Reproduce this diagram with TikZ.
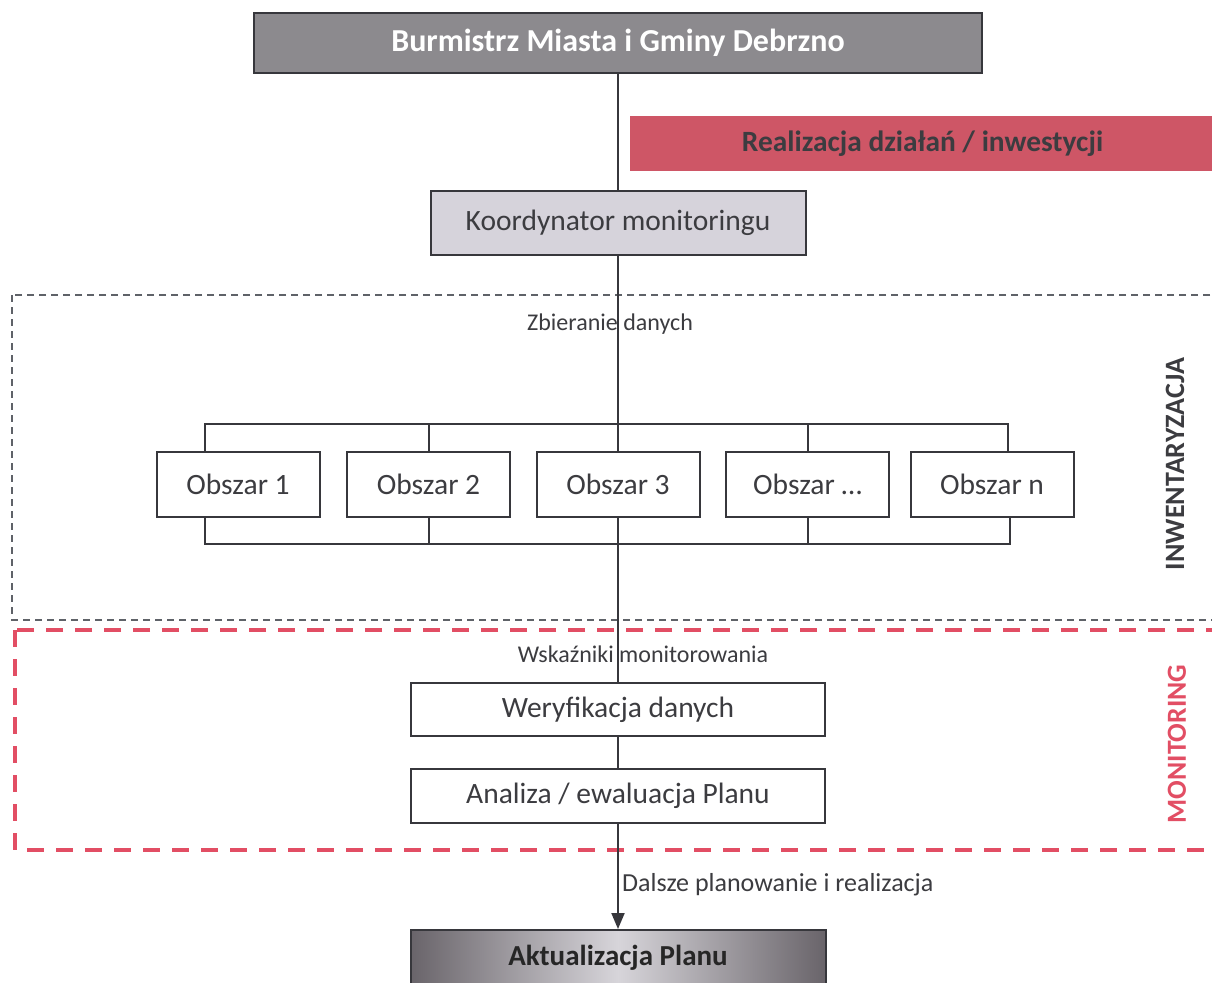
\documentclass[tikz,border=0pt]{standalone}
\usepackage{fontspec}
\setmainfont{Carlito}
\usetikzlibrary{arrows.meta}
\definecolor{edge}{RGB}{55,55,60}
\definecolor{ink}{RGB}{60,60,64}
\definecolor{headgray}{RGB}{140,138,142}
\definecolor{coordfill}{RGB}{214,211,219}
\definecolor{realred}{RGB}{206,86,102}
\definecolor{monred}{RGB}{226,78,100}
\definecolor{invgray}{RGB}{95,98,104}
\definecolor{akdark}{RGB}{105,100,106}
\definecolor{aklight}{RGB}{215,213,218}
\begin{document}
\begin{tikzpicture}[x=1pt,y=-1pt,
  box/.style={draw=edge, line width=2pt, inner sep=0pt, fill=white, text=ink,
    font=\fontsize{29.5}{33}\selectfont},
  conn/.style={draw=edge, line width=2pt},
  lbl/.style={text=ink, inner sep=0pt, font=\fontsize{24}{28}\selectfont},
  side/.style={rotate=90, inner sep=0pt, font=\fontsize{28}{32}\selectfont\bfseries},
  area/.style={draw=invgray, line width=2pt, dash pattern=on 7pt off 5pt},
  monarea/.style={draw=monred, line width=4pt, dash pattern=on 17pt off 12pt}]
\clip (0,0) rectangle (1212,982);
\fill[white] (0,0) rectangle (1212,982);

% frames of the two phases
\draw[area] (12,295) rectangle (1240,620);
\draw[monarea] (15,630) rectangle (1240,850);

% top of the hierarchy
\node[box, fill=headgray, text=white, minimum width=728pt, minimum height=60pt,
  font=\fontsize{32}{36}\selectfont\bfseries] (burm) at (618,43) {Burmistrz Miasta i Gminy Debrzno};
\node[fill=realred, text=ink, inner sep=0pt, minimum width=585pt, minimum height=55pt,
  font=\fontsize{29.4}{33}\selectfont\bfseries] (real) at (922.5,143.5) {Realizacja działań / inwestycji};
\node[box, fill=coordfill, minimum width=375pt, minimum height=64pt] (koord) at (618,223) {Koordynator monitoringu};

% areas
\node[lbl] (zbier) at (610,324) {Zbieranie danych};
\node[box, minimum width=163pt, minimum height=65pt] (o1) at (238,484) {Obszar 1};
\node[box, minimum width=163pt, minimum height=65pt] (o2) at (428.5,484) {Obszar 2};
\node[box, minimum width=163pt, minimum height=65pt] (o3) at (618,484) {Obszar 3};
\node[box, minimum width=163pt, minimum height=65pt] (o4) at (807.5,484) {Obszar \dots};
\node[box, minimum width=163pt, minimum height=65pt] (on) at (992,484) {Obszar n};

% monitoring
\node[lbl] (wsk) at (643,654) {Wskaźniki monitorowania};
\node[box, minimum width=414pt, minimum height=53pt] (wer) at (618,709.5) {Weryfikacja danych};
\node[box, minimum width=414pt, minimum height=54pt] (ana) at (618,796) {Analiza / ewaluacja Planu};
\node[lbl, anchor=west, font=\fontsize{26}{30}\selectfont] (dal) at (622,885) {Dalsze planowanie i realizacja};
\node[box, left color=akdark, right color=akdark, middle color=aklight, text=black!85,
  minimum width=415pt, minimum height=56pt,
  font=\fontsize{29}{33}\selectfont\bfseries] (akt) at (618,958) {Aktualizacja Planu};

% side captions
\node[side, text=ink] (inw) at (1175,464) {INWENTARYZACJA};
\node[side, text=monred, font=\fontsize{27.6}{31}\selectfont\bfseries] (mon) at (1177,744) {MONITORING};

% connectors
\coordinate (topbus) at (0,424);
\coordinate (botbus) at (0,544);
\coordinate (t1) at ([xshift=-33pt]o1.north);
\coordinate (tn) at ([xshift=16pt]on.north);
\coordinate (b1) at ([xshift=-33pt]o1.south);
\coordinate (bn) at ([xshift=18pt]on.south);

\draw[conn] (burm.south) -- (koord.north);
\draw[conn] (koord.south) -- (o3.north);
\draw[conn] (t1) -- (t1 |- topbus) -- (tn |- topbus) -- (tn);
\draw[conn] (o2.north) -- (o2.north |- topbus);
\draw[conn] (o4.north) -- (o4.north |- topbus);
\draw[conn] (b1) -- (b1 |- botbus) -- (bn |- botbus) -- (bn);
\draw[conn] (o2.south) -- (o2.south |- botbus);
\draw[conn] (o4.south) -- (o4.south |- botbus);
\draw[conn] (o3.south) -- (wer.north);
\draw[conn] (wer.south) -- (ana.north);
\draw[conn, -{Triangle[length=16pt,width=13pt]}] (ana.south) -- (akt.north);
\end{tikzpicture}
\end{document}
